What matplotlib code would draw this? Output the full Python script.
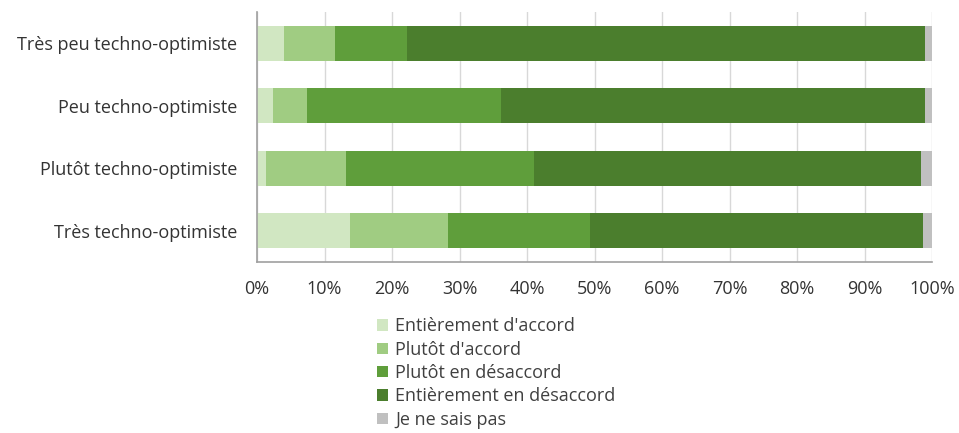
import numpy as np
import matplotlib.pyplot as plt

# data (percent)
groups = ['Très peu techno-optimiste', 'Peu techno-optimiste',
          'Plutôt techno-optimiste', 'Très techno-optimiste']
answers = ["Entièrement d'accord", "Plutôt d'accord", 'Plutôt en désaccord',
           'Entièrement en désaccord', 'Je ne sais pas']
entierement_accord = [4.0, 2.4, 1.3, 13.8]
plutot_accord = [7.5, 5.0, 11.9, 14.5]
plutot_desaccord = [10.7, 28.7, 27.9, 21.1]
entierement_desaccord = [76.8, 62.8, 57.3, 49.3]
ne_sais_pas = [1.0, 1.1, 1.6, 1.3]
xticks = np.arange(0, 101, 10)

colors = ['#d1e7c2', '#a0cc82', '#5f9e3b', '#4b7e2d', '#c0c0c0']
series = [entierement_accord, plutot_accord, plutot_desaccord,
          entierement_desaccord, ne_sais_pas]

plt.rcParams['font.family'] = ['Open Sans', 'DejaVu Sans']
fig = plt.figure(figsize=(9.59, 4.33), dpi=100)
ax = fig.add_axes([257/959, 1 - 262/433, 675/959, 250/433])

y = np.arange(len(groups))
left = np.zeros(len(groups))
for vals, col, lab in zip(series, colors, answers):
    ax.barh(y, vals, left=left, height=0.56, color=col, label=lab, zorder=2)
    left += np.array(vals)

ax.set_xlim(0, 100)
ax.set_ylim(len(groups) - 0.5, -0.5)
ax.set_yticks(y)
ax.set_yticklabels(groups, fontsize=13, color='#333333')
ax.set_xticks(xticks)
ax.set_xticklabels([f'{t}%' for t in xticks], fontsize=13, color='#333333')
ax.tick_params(axis='y', length=0, pad=14)
ax.tick_params(axis='x', length=0, pad=13)
ax.grid(axis='x', color='#d8d8d8', linewidth=1, zorder=0)
for s in ['top', 'right']:
    ax.spines[s].set_visible(False)
for s in ['left', 'bottom']:
    ax.spines[s].set_color('#a0a0a0')
    ax.spines[s].set_linewidth(1.2)

fig.legend(loc='upper left', bbox_to_anchor=(370/959, 1 - 310/433),
           frameon=False, fontsize=13, handlelength=0.6, handleheight=0.6,
           handletextpad=0.4, labelspacing=0.3, borderaxespad=0,
           labelcolor='#404040')

fig.savefig('out.png', dpi=100)
